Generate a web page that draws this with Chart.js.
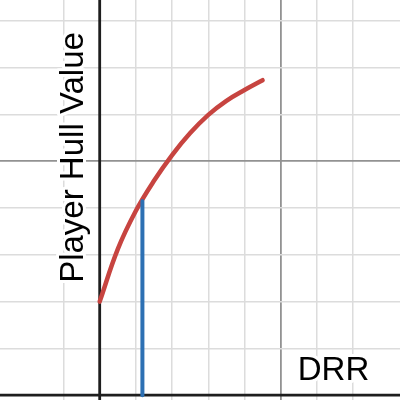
<!DOCTYPE html>
<html>
<head>
<meta charset="utf-8">
<script src="https://cdn.jsdelivr.net/npm/chart.js@4/dist/chart.umd.min.js"></script>
<style>
  html, body { margin: 0; padding: 0; background: #fff; }
  #wrap { width: 400px; height: 400px; position: relative; }
</style>
</head>
<body>
<div id="wrap"><canvas id="chart"></canvas></div>
<script>
// curve points (DRR -> hull value)
const drrValues  = [0, 0.5, 1, 1.5, 2, 2.5, 3, 3.5, 4, 4.5];
const hullValues = [2.0, 3.12, 3.94, 4.58, 5.13, 5.6, 5.99, 6.29, 6.52, 6.73];

// vertical marker
const markerX = [1.18, 1.18];
const markerY = [0, 4.15];

// visible window of the graph
const xRange = [-2.754, 8.296];
const yRange = [-0.103, 8.444];
const majorEvery = 5;

const xTitle = 'DRR';
const yTitle = 'Player Hull Value';

const toPoints = (xs, ys) => xs.map((x, i) => ({ x: x, y: ys[i] }));

function gridColor(ctx) {
  const v = ctx.tick.value;
  if (Math.abs(v - Math.round(v)) > 1e-6) return 'rgba(0,0,0,0)';
  if (v === 0) return 'rgba(0,0,0,0)'; // axes drawn by plugin
  if (v % majorEvery === 0) return '#929292';
  return '#dcdcdc';
}
function gridWidth(ctx) {
  return ctx.tick.value % majorEvery === 0 ? 1.8 : 1.5;
}

// black axes through the origin, under the datasets
const axesPlugin = {
  id: 'axes',
  beforeDatasetsDraw(chart) {
    const c = chart.ctx, xs = chart.scales.x, ys = chart.scales.y;
    const x0 = xs.getPixelForValue(0), y0 = ys.getPixelForValue(0);
    c.save();
    c.strokeStyle = '#1e1e1e';
    c.lineWidth = 2.8;
    c.beginPath();
    c.moveTo(x0, chart.chartArea.top);
    c.lineTo(x0, chart.chartArea.bottom);
    c.moveTo(chart.chartArea.left, y0);
    c.lineTo(chart.chartArea.right, y0);
    c.stroke();
    c.restore();
  }
};

// text labels with a white halo
const labelPlugin = {
  id: 'labels',
  afterDatasetsDraw(chart) {
    const c = chart.ctx;
    c.save();
    c.font = '33px "Liberation Sans", Arial, sans-serif';
    c.textAlign = 'center';
    c.textBaseline = 'alphabetic';
    c.lineJoin = 'round';
    c.strokeStyle = '#fff';
    c.lineWidth = 6;
    c.fillStyle = '#000';

    c.strokeText(xTitle, 333.5, 380);
    c.fillText(xTitle, 333.5, 380);

    c.translate(83, 157.5);
    c.rotate(-Math.PI / 2);
    c.strokeText(yTitle, 0, 0);
    c.fillText(yTitle, 0, 0);
    c.restore();
  }
};

new Chart(document.getElementById('chart'), {
  type: 'scatter',
  data: {
    datasets: [
      {
        data: toPoints(markerX, markerY),
        showLine: true,
        borderColor: '#2d70b3',
        borderWidth: 4,
        borderCapStyle: 'round',
        pointRadius: 0
      },
      {
        data: toPoints(drrValues, hullValues),
        showLine: true,
        borderColor: '#c74440',
        borderWidth: 4.5,
        borderCapStyle: 'round',
        tension: 0.4,
        pointRadius: 0
      }
    ]
  },
  options: {
    responsive: true,
    maintainAspectRatio: false,
    animation: false,
    layout: { padding: 0, autoPadding: false },
    plugins: { legend: { display: false }, tooltip: { enabled: false } },
    scales: {
      x: {
        type: 'linear',
        min: xRange[0], max: xRange[1],
        ticks: { display: false, stepSize: 1 },
        grid: { drawTicks: false, color: gridColor, lineWidth: gridWidth },
        border: { display: false }
      },
      y: {
        type: 'linear',
        min: yRange[0], max: yRange[1],
        ticks: { display: false, stepSize: 1 },
        grid: { drawTicks: false, color: gridColor, lineWidth: gridWidth },
        border: { display: false }
      }
    }
  },
  plugins: [axesPlugin, labelPlugin]
});
</script>
</body>
</html>
